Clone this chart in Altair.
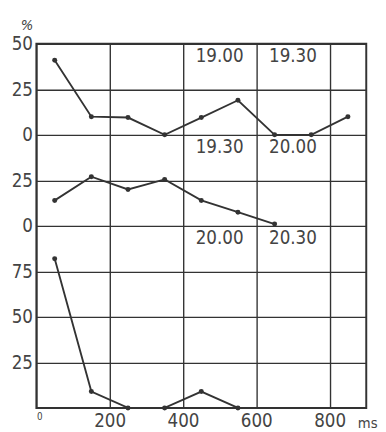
import altair as alt
import pandas as pd

# time (ms) of each measurement
x_ms = [50, 150, 250, 350, 450, 550, 650, 750, 850]

# percentages per panel
top_vals = [41, 10, 9.5, 0, 9.5, 19, 0, 0, 10]
mid_vals = [14, 27, 20, 25.5, 14, 7.5, 1]
bot_vals = [82, 9, 0, 0, 9, 0]

# hour labels in each panel
label_x = [500, 700, 500, 700, 500, 700]
label_txt = ["19.00", "19.30", "19.30", "20.00", "20.00", "20.30"]
label_panel = ["top", "top", "mid", "mid", "bot", "bot"]

# vertical offset of each panel on the shared stacked axis
offset = {"top": 150, "mid": 100, "bot": 0}
label_inset = 7

rows = []
for name, vals in [("top", top_vals), ("mid", mid_vals), ("bot", bot_vals)]:
    for xv, v in zip(x_ms, vals):
        rows.append({"series": name, "x": xv, "v": v, "g": offset[name] + v})
df = pd.DataFrame(rows)

tops = {"top": 200, "mid": 150, "bot": 100}
lab = pd.DataFrame({
    "x": label_x,
    "text": label_txt,
    "g": [tops[p] - label_inset for p in label_panel],
})

FONT = "DejaVu Sans Condensed, Liberation Sans Narrow, DejaVu Sans"
INK = "#333333"
TXT = "#444444"

xenc = alt.X(
    "x:Q",
    scale=alt.Scale(domain=[0, 900], nice=False, zero=False),
    axis=alt.Axis(
        values=[0, 200, 400, 600, 800],
        grid=True, ticks=False, domain=False,
        labelPadding=4, labelBaseline="top",
        labelFontSize={"condition": {"test": "datum.value == 0", "value": 10}, "value": 19},
        labelColor=TXT, labelFont=FONT,
        title="ms", titleX=338, titleY=15, titleAlign="center",
        titleBaseline="middle", titleFontSize=15, titleFontWeight="normal",
        titleColor=TXT, titleFont=FONT,
    ),
)
yenc = alt.Y(
    "g:Q",
    scale=alt.Scale(domain=[0, 200], nice=False),
    axis=alt.Axis(
        values=list(range(0, 201, 25)),
        labelExpr=(
            "datum.value == 0 ? '' : "
            "(datum.value == 100 || datum.value == 150) ? '0' : "
            "(datum.value == 125 || datum.value == 175) ? '25' : "
            "datum.value == 200 ? '50' : datum.label"
        ),
        grid=True, ticks=False, domain=False,
        labelPadding=4, labelFontSize=19, labelColor=TXT, labelFont=FONT,
        title="%", titleAngle=0, titleX=-10, titleY=-20, titleAlign="center",
        titleBaseline="middle", titleFontSize=15, titleFontStyle="italic",
        titleFontWeight="normal", titleColor=TXT, titleFont=FONT,
    ),
)

base = alt.Chart(df)
lines = base.mark_line(color=INK, strokeWidth=1.9).encode(x=xenc, y=yenc, detail="series:N")
points = base.mark_circle(color=INK, size=26, opacity=1).encode(x="x:Q", y="g:Q")
texts = alt.Chart(lab).mark_text(
    font=FONT, fontSize=19, color=TXT, baseline="middle", align="center"
).encode(x="x:Q", y="g:Q", text="text:N")

chart = (
    alt.layer(lines, points, texts)
    .properties(
        width=337, height=372,
        autosize=alt.AutoSizeParams(type="none"),
        padding={"left": 29, "top": 32, "right": 12, "bottom": 20},
        background="white",
    )
    .configure_view(stroke=INK, strokeWidth=2)
    .configure_axis(gridColor=INK, gridWidth=1.4, gridOpacity=1)
)

chart.save("out.html", embed_options={"renderer": "svg", "actions": False})
